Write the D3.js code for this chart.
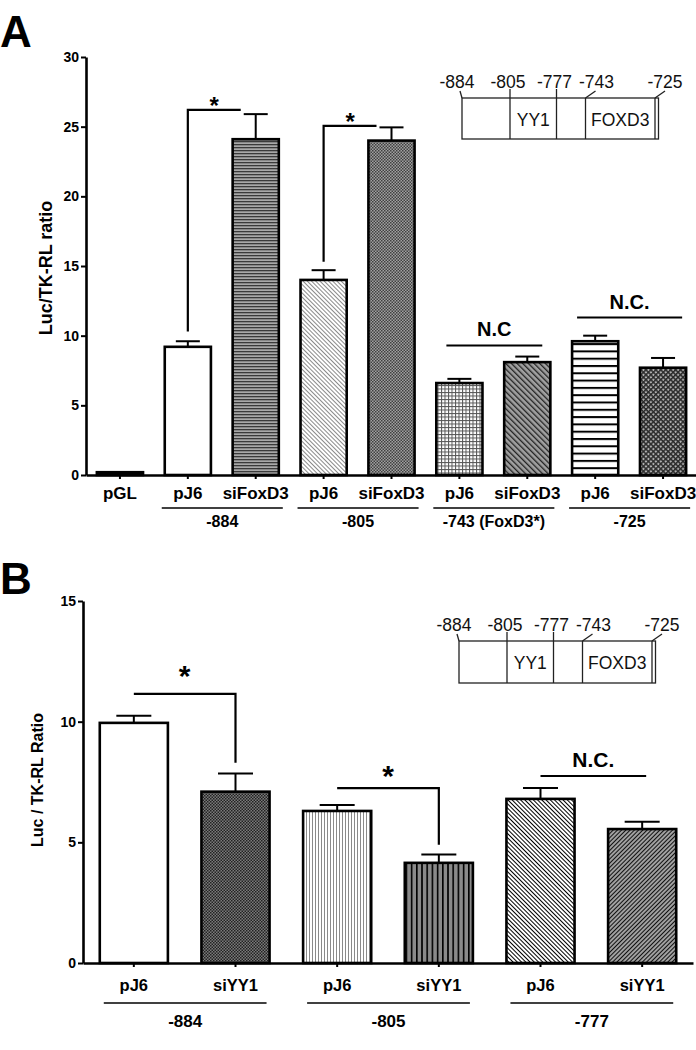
<!DOCTYPE html>
<html><head><meta charset="utf-8">
<script src="https://cdn.jsdelivr.net/npm/d3@7"></script>
<style>body{margin:0;background:#fff;} svg{display:block;}</style>
</head><body><svg id="c" width="696" height="1050"></svg>
<script>
// ---------------- Panel A data ----------------
const catsA = ["pGL","pJ6","siFoxD3","pJ6","siFoxD3","pJ6","siFoxD3","pJ6","siFoxD3"];
const valuesA = [0.2, 9.2, 24.1, 14.0, 24.0, 6.6, 8.1, 9.6, 7.7];
const errorsA = [0, 0.4, 1.8, 0.7, 0.95, 0.3, 0.4, 0.4, 0.7];
const groupLabelsA = ["-884","-805","-743 (FoxD3*)","-725"];
const groupBarsA = [[1,2],[3,4],[5,6],[7,8]];
const ticksA = [0,5,10,15,20,25,30];
const sigA = [{from:1,to:2,y:26.2,start:10.3,label:"*"},{from:3,to:4,y:25.05,start:15.3,label:"*"}];
const ncA = [{from:5,to:6,y:9.3,label:"N.C"},{from:7,to:8,y:11.3,label:"N.C."}];

// ---------------- Panel B data ----------------
const catsB = ["pJ6","siYY1","pJ6","siYY1","pJ6","siYY1"];
const valuesB = [9.95, 7.1, 6.3, 4.15, 6.8, 5.55];
const errorsB = [0.3, 0.75, 0.25, 0.35, 0.45, 0.3];
const groupLabelsB = ["-884","-805","-777"];
const groupBarsB = [[0,1],[2,3],[4,5]];
const ticksB = [0,5,10,15];
const sigB = [{from:0,to:1,y:11.15,end:8.3,label:"*"},{from:2,to:3,y:7.25,end:4.9,label:"*"}];
const ncB = [{from:4,to:5,y:7.75,label:"N.C."}];

// inset schematic
const insetMarkers = ["-884","-805","-777","-743","-725"];
const insetSegments = ["","YY1","","FOXD3",""];

const FONT = "'Liberation Sans', Arial, Helvetica, sans-serif";
const svg = d3.select("#c").style("font-family", FONT);
const defs = svg.append("defs");

// ---------- patterns ----------
function stripePattern(id, size, bg, fg, lw, rotate, horizontal) {
  const p = defs.append("pattern").attr("id", id).attr("patternUnits","userSpaceOnUse")
    .attr("width", size).attr("height", size);
  if (rotate) p.attr("patternTransform", `rotate(${rotate})`);
  p.append("rect").attr("width", size).attr("height", size).attr("fill", bg);
  if (horizontal) p.append("rect").attr("x",0).attr("y",0).attr("width",size).attr("height",lw).attr("fill",fg);
  else p.append("rect").attr("x",0).attr("y",0).attr("width",lw).attr("height",size).attr("fill",fg);
}
function checkPattern(id, size, c1, c2, rotate) {
  const p = defs.append("pattern").attr("id", id).attr("patternUnits","userSpaceOnUse")
    .attr("width", size*2).attr("height", size*2);
  if (rotate) p.attr("patternTransform", `rotate(${rotate})`);
  p.append("rect").attr("width", size*2).attr("height", size*2).attr("fill", c1);
  p.append("rect").attr("width", size).attr("height", size).attr("fill", c2);
  p.append("rect").attr("x",size).attr("y",size).attr("width", size).attr("height", size).attr("fill", c2);
}
function gridPattern(id, size, bg, fg, lw, rotate) {
  const p = defs.append("pattern").attr("id", id).attr("patternUnits","userSpaceOnUse")
    .attr("width", size).attr("height", size);
  if (rotate) p.attr("patternTransform", `rotate(${rotate})`);
  p.append("rect").attr("width", size).attr("height", size).attr("fill", bg);
  p.append("rect").attr("width", size).attr("height", lw).attr("fill", fg);
  p.append("rect").attr("width", lw).attr("height", size).attr("fill", fg);
}
stripePattern("a_hgray", 3, "#a8a8a8", "#3a3a3a", 1.3, 0, true);
stripePattern("a_light", 3, "#ffffff", "#8a8a8a", 1, -45, false);
checkPattern("a_cross", 1.5, "#a0a0a0", "#404040", 0);
gridPattern("a_grid", 3.5, "#ffffff", "#555555", 1, 0);
stripePattern("a_diag", 4, "#a0a0a0", "#222222", 1.3, -45, false);
stripePattern("a_hbw", 7.3, "#ffffff", "#000000", 2, 0, true);
gridPattern("a_diamond", 3.5, "#b0b0b0", "#2a2a2a", 1.5, 45);

checkPattern("b_check", 1.5, "#7a7a7a", "#222222", 0);
stripePattern("b_vlight", 3, "#ffffff", "#8a8a8a", 1, 0, false);
stripePattern("b_vdark", 5.2, "#8a8a8a", "#000000", 1.6, 0, false);
stripePattern("b_diagbw", 3, "#ffffff", "#000000", 1, -45, false);
stripePattern("b_diagdk", 3, "#a0a0a0", "#111111", 1, 45, false);

const fillsA = ["#000","#fff","url(#a_hgray)","url(#a_light)","url(#a_cross)","url(#a_grid)","url(#a_diag)","url(#a_hbw)","url(#a_diamond)"];
const fillsB = ["#fff","url(#b_check)","url(#b_vlight)","url(#b_vdark)","url(#b_diagbw)","url(#b_diagdk)"];

// ---------- generic drawing ----------
function drawBars(g, x, y, vals, errs, fills, capW) {
  g.selectAll("rect.bar").data(vals).join("rect").attr("class","bar")
    .attr("x",(d,i)=>x(i)).attr("width",x.bandwidth())
    .attr("y",d=>y(d)).attr("height",d=>y(0)-y(d))
    .attr("fill",(d,i)=>fills[i]).attr("stroke","#000").attr("stroke-width",2.6);
  const eb = g.selectAll("g.err").data(vals.map((v,i)=>({v, e:errs[i], i})).filter(d=>d.e>0))
    .join("g").attr("class","err").attr("stroke","#000").attr("stroke-width",2);
  eb.append("line").attr("x1",d=>x(d.i)+x.bandwidth()/2).attr("x2",d=>x(d.i)+x.bandwidth()/2)
    .attr("y1",d=>y(d.v)).attr("y2",d=>y(d.v+d.e));
  eb.append("line").attr("x1",d=>x(d.i)+x.bandwidth()/2-capW/2).attr("x2",d=>x(d.i)+x.bandwidth()/2+capW/2)
    .attr("y1",d=>y(d.v+d.e)).attr("y2",d=>y(d.v+d.e));
}
function styleAxis(a, fontSize, bold) {
  a.selectAll("path.domain").attr("stroke","#000").attr("stroke-width",2.6);
  a.selectAll(".tick line").attr("stroke","#000").attr("stroke-width",2);
  a.selectAll(".tick text").attr("fill","#000").style("font-family",FONT)
    .style("font-size",fontSize+"px").style("font-weight",bold?"bold":"normal");
}
function drawInset(g, left, top, boxH) {
  const segW = [48, 46.5, 29, 69.5, 3.5];
  const edges = [left];
  segW.forEach(w => edges.push(edges[edges.length-1] + w));
  const right = edges[edges.length-1];
  const ln = (x1,y1,x2,y2)=>g.append("line").attr("x1",x1).attr("y1",y1).attr("x2",x2).attr("y2",y2)
      .attr("stroke","#222").attr("stroke-width",1.3);
  g.append("rect").attr("x",left).attr("y",top).attr("width",right-left).attr("height",boxH)
    .attr("fill","none").attr("stroke","#222").attr("stroke-width",1.3);
  for (let k=1;k<edges.length-1;k++) ln(edges[k], top, edges[k], top+boxH);
  const lx = [left-5, edges[1]-2, edges[2]-2, edges[3]+11, edges[4]+10];
  ln(left, top, left-2, top-7);
  ln(edges[1], top, edges[1], top-9);
  ln(edges[2], top, edges[2], top-9);
  ln(edges[3], top, edges[3]+10, top-7);
  ln(edges[4], top, edges[4]+10, top-7);
  insetMarkers.forEach((m,k)=>g.append("text").attr("x",lx[k]).attr("y",top-10)
    .attr("text-anchor","middle").style("font-size","17.5px").attr("fill","#111").text(m));
  insetSegments.forEach((s,k)=>{ if(!s) return;
    g.append("text").attr("x",(edges[k]+edges[k+1])/2).attr("y",top+28)
      .attr("text-anchor","middle").style("font-size","17.5px").attr("fill","#111").text(s); });
}

// ================= Panel A =================
const gA = svg.append("g");
const yA = d3.scaleLinear().domain([0,30]).range([475,57]);
const xA = d3.scaleBand().domain(d3.range(catsA.length)).range([86,697]).paddingInner(0.32).paddingOuter(0.16);
const cxA = i => xA(i) + xA.bandwidth()/2;

drawBars(gA, xA, yA, valuesA, errorsA, fillsA, 24);

const axYA = gA.append("g").attr("transform","translate(86,0)")
  .call(d3.axisLeft(yA).tickValues(ticksA).tickSize(5).tickSizeOuter(0).tickPadding(2));
styleAxis(axYA, 14, true);
const axXA = gA.append("g").attr("transform","translate(0,475)")
  .call(d3.axisBottom(xA).tickFormat(i=>catsA[i]).tickSize(4).tickSizeOuter(0).tickPadding(8));
styleAxis(axXA, 17, true);

groupBarsA.forEach((gb,k)=>{
  const x1 = xA(gb[0])-3, x2 = xA(gb[1])+xA.bandwidth()+4;
  gA.append("line").attr("x1",x1).attr("x2",x2).attr("y1",508).attr("y2",508).attr("stroke","#000").attr("stroke-width",1.3);
  gA.append("text").attr("x",(x1+x2)/2).attr("y",527).attr("text-anchor","middle")
    .style("font-size","16px").style("font-weight","bold").text(groupLabelsA[k]);
});
sigA.forEach(s=>{
  const x1 = cxA(s.from), x2 = cxA(s.to)-15;
  gA.append("path").attr("d",`M${x1},${yA(s.start)}V${yA(s.y)}H${x2}`)
    .attr("fill","none").attr("stroke","#000").attr("stroke-width",2.2);
  gA.append("text").attr("x",(x1+x2)/2).attr("y",yA(s.y)+4).attr("text-anchor","middle")
    .style("font-size","24px").style("font-weight","bold").text(s.label);
});
ncA.forEach((s,k)=>{
  const x1 = k===0 ? cxA(s.from)-13 : xA(s.from)+5, x2 = k===0 ? cxA(s.to)+15 : xA(s.to)+xA.bandwidth()-4;
  gA.append("line").attr("x1",x1).attr("x2",x2).attr("y1",yA(s.y)).attr("y2",yA(s.y)).attr("stroke","#000").attr("stroke-width",2);
  gA.append("text").attr("x",(x1+x2)/2).attr("y",yA(s.y)-9).attr("text-anchor","middle")
    .style("font-size","20px").style("font-weight","bold").text(s.label);
});
gA.append("text").attr("transform","translate(52,268) rotate(-90)").attr("text-anchor","middle")
  .style("font-size","18px").style("font-weight","bold").text("Luc/TK-RL ratio");
gA.append("text").attr("x",0).attr("y",47).style("font-size","44px").style("font-weight","bold").text("A");
drawInset(gA.append("g"), 462, 98, 41);

// ================= Panel B =================
const gB = svg.append("g");
const yB = d3.scaleLinear().domain([0,15]).range([963,601]);
const xB = d3.scaleBand().domain(d3.range(catsB.length)).range([83,693]).paddingInner(0.33).paddingOuter(0.165);
const cxB = i => xB(i) + xB.bandwidth()/2;

drawBars(gB, xB, yB, valuesB, errorsB, fillsB, 35);

const axYB = gB.append("g").attr("transform","translate(83,0)")
  .call(d3.axisLeft(yB).tickValues(ticksB).tickSize(5).tickSizeOuter(0).tickPadding(2));
styleAxis(axYB, 14, true);
const axXB = gB.append("g").attr("transform","translate(0,963)")
  .call(d3.axisBottom(xB).tickFormat(i=>catsB[i]).tickSize(4).tickSizeOuter(0).tickPadding(12));
styleAxis(axXB, 16.5, true);

groupBarsB.forEach((gb,k)=>{
  const x1 = xB(gb[0])+4, x2 = xB(gb[1])+xB.bandwidth()-3;
  gB.append("line").attr("x1",x1).attr("x2",x2).attr("y1",1003).attr("y2",1003).attr("stroke","#000").attr("stroke-width",1.3);
  gB.append("text").attr("x",(x1+x2)/2).attr("y",1027).attr("text-anchor","middle")
    .style("font-size","17px").style("font-weight","bold").text(groupLabelsB[k]);
});
sigB.forEach((s,k)=>{
  const x1 = cxB(s.from), x2 = cxB(s.to);
  gB.append("path").attr("d",`M${x1},${yB(s.y)}H${x2}V${yB(s.end)}`)
    .attr("fill","none").attr("stroke","#000").attr("stroke-width",2.2);
  gB.append("text").attr("x",(x1+x2)/2).attr("y",yB(s.y)-(k===0?8:2)).attr("text-anchor","middle")
    .style("font-size","30px").style("font-weight","bold").text(s.label);
});
ncB.forEach(s=>{
  const x1 = cxB(s.from), x2 = cxB(s.to)+4;
  gB.append("line").attr("x1",x1).attr("x2",x2).attr("y1",yB(s.y)).attr("y2",yB(s.y)).attr("stroke","#000").attr("stroke-width",2);
  gB.append("text").attr("x",(x1+x2)/2).attr("y",yB(s.y)-9).attr("text-anchor","middle")
    .style("font-size","21px").style("font-weight","bold").text(s.label);
});
gB.append("text").attr("transform","translate(43,780) rotate(-90)").attr("text-anchor","middle")
  .style("font-size","16px").style("font-weight","bold").text("Luc / TK-RL Ratio");
gB.append("text").attr("x",0).attr("y",594).style("font-size","44px").style("font-weight","bold").text("B");
drawInset(gB.append("g"), 459, 641, 42);
</script></body></html>
